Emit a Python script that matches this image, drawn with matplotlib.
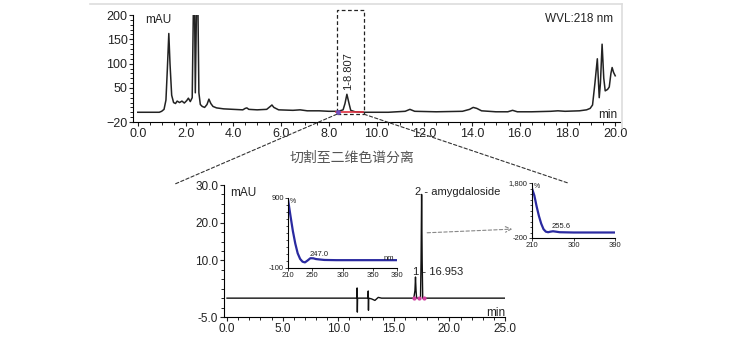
import matplotlib
matplotlib.use("Agg")
import matplotlib.pyplot as plt
from matplotlib.patches import Rectangle, ConnectionPatch
from matplotlib.ticker import MultipleLocator, FormatStrFormatter

plt.rcParams['font.family'] = ['Liberation Sans', 'DejaVu Sans']

# first dimension chromatogram (min, mAU)
t1 = [0.0, 0.9, 1.0, 1.1, 1.18, 1.24, 1.3, 1.35, 1.42, 1.5, 1.58, 1.65, 1.75, 1.85, 1.95,
      2.05, 2.12, 2.2, 2.28, 2.33, 2.38, 2.41, 2.46, 2.52, 2.56, 2.62, 2.7, 2.8, 2.9, 2.98,
      3.06, 3.15, 3.3, 3.6, 4.0, 4.4, 4.5, 4.57, 4.65, 5.0, 5.4, 5.55, 5.62, 5.7, 5.9, 6.5,
      6.8, 7.1, 7.6, 8.0, 8.4, 8.6, 8.68, 8.76, 8.84, 8.92, 9.1, 9.5, 10.5, 11.2, 11.4, 11.6,
      12.5, 13.6, 13.9, 14.05, 14.2, 14.4, 15.0, 15.5, 15.7, 15.9, 16.5, 17.3, 17.6, 17.9,
      18.5, 18.8, 18.95, 19.05, 19.15, 19.25, 19.33, 19.38, 19.45, 19.52, 19.58, 19.68,
      19.75, 19.82, 19.87, 19.93, 20.0]
v1 = [0, 0, 2, 6, 25, 90, 162, 100, 35, 20, 18, 23, 20, 23, 19,
      24, 29, 22, 30, 215, 215, 40, 215, 215, 40, 16, 12, 10, 16, 27,
      18, 12, 9, 7, 6, 5, 8, 9, 6, 5, 6, 12, 15, 10, 5, 4,
      5, 3, 3, 2, 2, 5, 18, 37, 20, 4, 1, 0, 0, 2, 6, 2,
      1, 2, 6, 10, 8, 3, 1, 1, 4, 1, 1, 2, 3, 2,
      3, 5, 8, 15, 60, 110, 30, 60, 140, 70, 44, 47,
      52, 80, 92, 82, 75]

# second dimension chromatogram (min, mAU)
t2 = [0.0, 11.68, 11.7, 11.72, 11.74, 12.68, 12.7, 12.72, 12.74, 13.0, 13.3, 13.6, 13.9,
      16.8, 16.9, 16.95, 17.0, 17.05, 17.4, 17.45, 17.5, 17.55, 17.6, 25.0]
v2 = [0, 0, 2.7, -3.7, 0, 0, 1.9, -3.2, 0, -0.2, -0.6, 0.2, 0,
      0, 2.0, 5.6, 2.0, 0, 0, 10, 27.5, 10, 0, 0]

# UV spectra (nm, %)
wl_a = [210, 214, 218, 222, 226, 230, 234, 238, 242, 247, 252, 256, 262, 270, 290, 330, 390]
sp_a = [880, 650, 430, 250, 110, 30, -10, -20, 5, 40, 38, 28, 22, 15, 12, 12, 12]
wl_b = [210, 215, 220, 225, 230, 235, 240, 245, 250, 255.6, 262, 270, 300, 390]
sp_b = [1600, 1350, 950, 600, 320, 120, 30, 10, 30, 45, 30, 10, 0, 0]

W, H = 740, 337


def px_rect(x0, y0, x1, y1):
    return [x0 / W, 1 - y1 / H, (x1 - x0) / W, (y1 - y0) / H]


def px(x, y):
    return (x / W, 1 - y / H)


fig = plt.figure(figsize=(7.4, 3.37), dpi=100)

# light frame of the upper screenshot
fig.add_artist(plt.Line2D([90 / W, 622 / W], [1 - 4 / H, 1 - 4 / H], color='#dddddd', lw=1.2))
fig.add_artist(plt.Line2D([622 / W, 622 / W], [1 - 4 / H, 1 - 128 / H], color='#dddddd', lw=1.2))

# ---- upper chart
ax1 = fig.add_axes(px_rect(133, 15, 620, 122))
ax1.plot(t1, v1, color='#222222', lw=1.1)
ax1.set_xlim(-0.2, 20.2)
ax1.set_ylim(-20, 200)
ax1.set_xticks([0, 2, 4, 6, 8, 10, 12, 14, 16, 18, 20])
ax1.xaxis.set_major_formatter(FormatStrFormatter('%.1f'))
ax1.xaxis.set_minor_locator(MultipleLocator(0.5))
ax1.set_yticks([-20, 50, 100, 150, 200])
ax1.yaxis.set_minor_locator(MultipleLocator(10))
for s in ['top', 'right']:
    ax1.spines[s].set_visible(False)
ax1.tick_params(labelsize=9, length=3, width=0.8, pad=1, colors='#222222')
ax1.tick_params(which='minor', length=2, width=0.6)
ax1.patch.set_alpha(0)
ax1.text(0.3, 190, 'mAU', fontsize=8.5, va='center', color='#222222')
ax1.text(19.9, 192, 'WVL:218 nm', fontsize=8.5, ha='right', va='center', color='#222222')
ax1.text(20.1, -5.5, 'min', fontsize=8.5, ha='right', va='center', color='#222222')
ax1.text(8.82, 85, '1-8.807', fontsize=8, rotation=90, ha='center', va='center', color='#222222')
ax1.plot([8.3, 9.45], [1, 1], color='#e03040', lw=1.2)
ax1.plot([8.4], [1.5], marker='o', ms=2.5, color='#7050c0')

box = Rectangle((8.34, -4), 9.48 - 8.34, 214, fill=False, ls=(0, (3, 2)), lw=0.9,
                edgecolor='#222222', clip_on=False)
ax1.add_patch(box)

fig.add_artist(ConnectionPatch(xyA=(8.34, -4), coordsA=ax1.transData,
                               xyB=px(175, 184), coordsB=fig.transFigure,
                               ls=(0, (3, 2)), lw=0.8, color='#333333'))
fig.add_artist(ConnectionPatch(xyA=(9.48, -4), coordsA=ax1.transData,
                               xyB=px(568, 183), coordsB=fig.transFigure,
                               ls=(0, (3, 2)), lw=0.8, color='#333333'))

fig.text(*px(352, 158), '切割至二维色谱分离', fontsize=10, ha='center', va='center',
         color='#555555', family=['Noto Sans CJK SC', 'DejaVu Sans'])

# ---- lower chart
ax2 = fig.add_axes(px_rect(223.7, 185, 505, 317))
ax2.plot(t2, v2, color='#111111', lw=1.0)
ax2.set_xlim(-0.3, 25)
ax2.set_ylim(-5, 30)
ax2.set_xticks([0, 5, 10, 15, 20, 25])
ax2.xaxis.set_major_formatter(FormatStrFormatter('%.1f'))
ax2.xaxis.set_minor_locator(MultipleLocator(1))
ax2.set_yticks([-5, 10, 20, 30])
ax2.yaxis.set_major_formatter(FormatStrFormatter('%.1f'))
ax2.yaxis.set_minor_locator(MultipleLocator(2.5))
for s in ['top', 'right']:
    ax2.spines[s].set_visible(False)
ax2.tick_params(labelsize=8.5, length=3, width=0.8, pad=1, colors='#222222')
ax2.tick_params(which='minor', length=2, width=0.6)
ax2.patch.set_alpha(0)
ax2.plot([16.85, 17.3, 17.7], [0, 0, 0], ls='none', marker='o', ms=2, color='#d040a0')
ax2.text(0.3, 28, 'mAU', fontsize=8.5, va='center', color='#222222')
ax2.text(25, -3.9, 'min', fontsize=8.5, ha='right', va='center', color='#222222')
ax2.text(16.9, 28.2, '2 - amygdaloside', fontsize=8, va='center', color='#222222')
ax2.text(16.75, 7, '1 - 16.953', fontsize=8, va='center', color='#222222')
ax2.annotate('', xy=px(515, 229), xycoords='figure fraction',
             xytext=(17.75, 17.3), textcoords='data',
             arrowprops=dict(arrowstyle='->', color='#888888', lw=0.8, ls=(0, (3, 2))))

# ---- UV spectrum insets
def spectrum(rect, wl, sp, ymin, ymax, ylab_top, peak, peak_xy, xlabels):
    ax = fig.add_axes(px_rect(*rect))
    ax.plot(wl, sp, color='#2a2aa0', lw=1.6)
    ax.set_xlim(210, 390)
    ax.set_ylim(ymin, ymax)
    ax.set_xticks(xlabels)
    ax.set_yticks([ymin, ymax])
    ax.set_yticklabels([str(ymin), ylab_top])
    ax.yaxis.set_minor_locator(MultipleLocator((ymax - ymin) / 10))
    for s in ['top', 'right']:
        ax.spines[s].set_visible(False)
    ax.tick_params(labelsize=5.5, length=2, width=0.6, pad=1, colors='#222222')
    ax.tick_params(which='minor', length=1.5, width=0.5)
    ax.patch.set_alpha(0)
    ax.text(213, ymax, '%', fontsize=5, va='top', color='#222222')
    ax.text(peak_xy[0], peak_xy[1], peak, fontsize=5.5, ha='center', va='bottom', color='#222222')
    return ax


ax3 = spectrum((288, 198, 397, 268), wl_a, sp_a, -100, 900, '900', '247.0', (262, 45),
               [210, 250, 300, 350, 390])
ax3.text(385, -20, 'nm', fontsize=5.5, ha='right', va='bottom', color='#222222')
ax4 = spectrum((532, 183, 615, 238), wl_b, sp_b, -200, 1800, '1,800', '255.6', (273, 80),
               [210, 300, 390])

fig.savefig('out.png', dpi=100)
